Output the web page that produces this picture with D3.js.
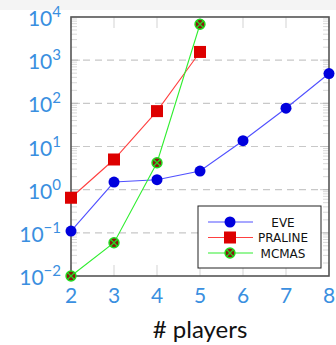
<!DOCTYPE html>
<html>
<head>
<meta charset="utf-8">
<script src="https://cdn.jsdelivr.net/npm/d3@7"></script>
<style>
  html, body { margin: 0; padding: 0; background: #fff; }
  svg { display: block; }
</style>
</head>
<body>
<svg id="chart" width="336" height="345"></svg>
<script>
// Running time vs number of players, log scale
const players = [2, 3, 4, 5, 6, 7, 8];
const eveTimes = [0.11, 1.5, 1.7, 2.7, 13.6, 77, 490];
const pralinePlayers = [2, 3, 4, 5];
const pralineTimes = [0.65, 5, 66, 1550];
const mcmasPlayers = [2, 3, 4, 5];
const mcmasTimes = [0.01, 0.059, 4.2, 6800];
const xTicks = [2, 3, 4, 5, 6, 7, 8];
const yExponents = [-2, -1, 0, 1, 2, 3, 4];
const seriesNames = ["EVE", "PRALINE", "MCMAS"];

const W = 336, H = 345;
const m = { left: 71, right: 7, top: 17, bottom: 69 };
const svg = d3.select("#chart");

// light strip along the top edge
svg.append("rect").attr("x", 0).attr("y", 0).attr("width", W).attr("height", 10).attr("fill", "#f4f4f4");

const x = d3.scaleLinear().domain([2, 8]).range([m.left, W - m.right]);
const y = d3.scaleLog().domain([1e-2, 1e4]).range([H - m.bottom, m.top]);

const tickColor = "#3a8fe0";
const font = "Lato, 'Open Sans', sans-serif";

// dashed major grid lines
svg.append("g").selectAll("line").data(yExponents.slice(1, -1)).join("line")
  .attr("x1", m.left).attr("x2", W - m.right)
  .attr("y1", d => y(Math.pow(10, d))).attr("y2", d => y(Math.pow(10, d)))
  .attr("stroke", "#c8c8c8").attr("stroke-width", 1.2).attr("stroke-dasharray", "7,5");

// minor y ticks inside left and right edges
const minor = [];
for (let e = -2; e < 4; e++) for (let k = 2; k <= 9; k++) minor.push(k * Math.pow(10, e));
const gMinor = svg.append("g").attr("stroke", "#cfcfcf").attr("stroke-width", 0.8);
minor.forEach(v => {
  gMinor.append("line").attr("x1", m.left).attr("x2", m.left + 6).attr("y1", y(v)).attr("y2", y(v));
  gMinor.append("line").attr("x1", W - m.right - 6).attr("x2", W - m.right).attr("y1", y(v)).attr("y2", y(v));
});
// major y ticks (longer)
yExponents.forEach(e => {
  const v = Math.pow(10, e);
  gMinor.append("line").attr("x1", m.left).attr("x2", m.left + 9).attr("y1", y(v)).attr("y2", y(v)).attr("stroke", "#bbb");
  gMinor.append("line").attr("x1", W - m.right - 9).attr("x2", W - m.right).attr("y1", y(v)).attr("y2", y(v)).attr("stroke", "#bbb");
});
// x ticks at top and bottom
xTicks.forEach(t => {
  gMinor.append("line").attr("x1", x(t)).attr("x2", x(t)).attr("y1", m.top).attr("y2", m.top + 11).attr("stroke", "#c8c8c8");
  gMinor.append("line").attr("x1", x(t)).attr("x2", x(t)).attr("y1", H - m.bottom).attr("y2", H - m.bottom - 11).attr("stroke", "#c8c8c8");
});

// frame
svg.append("rect").attr("x", m.left).attr("y", m.top)
  .attr("width", W - m.left - m.right).attr("height", H - m.top - m.bottom)
  .attr("fill", "none").attr("stroke", "#555").attr("stroke-width", 1.6);

// x tick labels
svg.append("g").selectAll("text").data(xTicks).join("text")
  .attr("x", d => x(d)).attr("y", H - m.bottom + 27)
  .attr("text-anchor", "middle").attr("fill", tickColor)
  .attr("font-family", font).attr("font-size", 21).text(d => d);

// y tick labels 10^e
const yl = svg.append("g").selectAll("text").data(yExponents).join("text")
  .attr("x", m.left - 10).attr("y", d => y(Math.pow(10, d)) + 9)
  .attr("text-anchor", "end").attr("fill", tickColor)
  .attr("font-family", font).attr("font-size", 21);
yl.append("tspan").text("10");
yl.append("tspan").attr("dy", -9).attr("font-size", 15)
  .text(d => d < 0 ? "\u2212" + Math.abs(d) : d);

// axis title
svg.append("text").attr("x", x(5)).attr("y", 338).attr("text-anchor", "middle")
  .attr("fill", "#111").attr("font-family", font).attr("font-size", 24).text("# players");

const line = d3.line().x(d => x(d[0])).y(d => y(d[1]));
const eve = players.map((p, i) => [p, eveTimes[i]]);
const praline = pralinePlayers.map((p, i) => [p, pralineTimes[i]]);
const mcmas = mcmasPlayers.map((p, i) => [p, mcmasTimes[i]]);

const styles = [
  { line: "#5050ff", fill: "#0000dd", stroke: "#0000dd", shape: "circle" },
  { line: "#ff4040", fill: "#dd0000", stroke: "#dd0000", shape: "square" },
  { line: "#30ee30", fill: "#8a1a10", stroke: "#22dd22", shape: "otimes" }
];

function marker(g, cx, cy, s) {
  if (s.shape === "circle") {
    g.append("circle").attr("cx", cx).attr("cy", cy).attr("r", 5.5).attr("fill", s.fill);
  } else if (s.shape === "square") {
    g.append("rect").attr("x", cx - 6).attr("y", cy - 6).attr("width", 12).attr("height", 12).attr("fill", s.fill);
  } else {
    g.append("circle").attr("cx", cx).attr("cy", cy).attr("r", 5).attr("fill", s.fill)
      .attr("stroke", s.stroke).attr("stroke-width", 1.4);
    const r = 3.5;
    g.append("path").attr("d", `M${cx - r},${cy - r}L${cx + r},${cy + r}M${cx - r},${cy + r}L${cx + r},${cy - r}`)
      .attr("stroke", s.stroke).attr("stroke-width", 1.2);
  }
}

[eve, praline, mcmas].forEach((data, i) => {
  const s = styles[i];
  const g = svg.append("g");
  g.append("path").datum(data).attr("d", line).attr("fill", "none")
    .attr("stroke", s.line).attr("stroke-width", 1.1);
  data.forEach(d => marker(g, x(d[0]), y(d[1]), s));
});

// legend
const lg = svg.append("g");
lg.append("rect").attr("x", 198).attr("y", 206).attr("width", 123).attr("height", 62)
  .attr("fill", "#fff").attr("stroke", "#222").attr("stroke-width", 1);
seriesNames.forEach((n, i) => {
  const cy = 222 + i * 15.5;
  lg.append("line").attr("x1", 208).attr("x2", 253).attr("y1", cy).attr("y2", cy)
    .attr("stroke", styles[i].line).attr("stroke-width", 1.1);
  marker(lg, 230, cy, styles[i]);
  lg.append("text").attr("x", 283).attr("y", cy + 4.5).attr("text-anchor", "middle")
    .attr("font-family", "'DejaVu Sans', sans-serif").attr("font-size", 12).attr("fill", "#111").text(n);
});
</script>
</body>
</html>
